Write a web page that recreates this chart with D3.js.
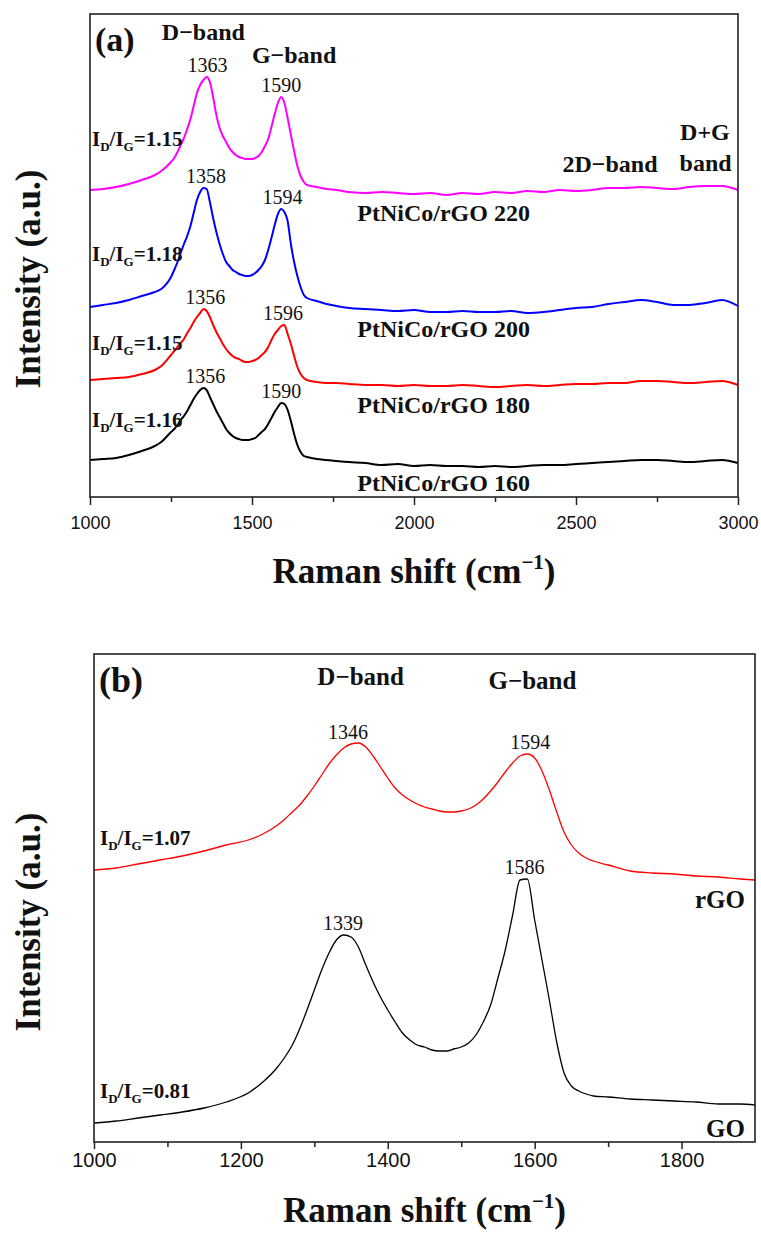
<!DOCTYPE html>
<html>
<head>
<meta charset="utf-8">
<script src="https://cdn.jsdelivr.net/npm/d3@7/dist/d3.min.js"></script>
<style>
  body { margin: 0; background: #fff; }
  svg text { fill: #111; }
</style>
</head>
<body>
<div id="chart"></div>
<script>
// ---------- panel (a) data : Raman shift grid + intensity (a.u.) per sample
var ramanA = [1000,1040,1080,1120,1160,1200,1220,
  1250,1260,1270,1280,1290,1300,1310,1320,1330,1340,1350,1360,1370,1380,1390,1400,1410,1420,1430,1440,
  1450,1460,1470,1480,1490,1500,1510,1520,1530,1540,1550,1560,1570,1580,1590,1600,1610,1620,1630,1640,
  1650,1660,1670,1700,1730,1760,1800,
  1850,1900,1950,2000,2050,2100,2150,2200,2250,2300,2350,2400,2450,2500,2550,2600,2650,2700,2750,2800,2850,2900,2950,3000];

var pt220 = [307,308,310,313,317,322,326,
  335,339,345,352,359,368,378,391,404,412,417,420,415,400,382,369,361,355,349,345,
  342,340,339,338,338,338,339,341,345,351,358,370,383,394,400,394,379,362,346,331,
  321,315,312,310,308,307,305,
  304,305,304,303,304,302,304,303,305,304,306,305,307,306,307,309,309,310,309,308,310,311,311,307];
var pt200 = [190,192,194,197,201,205,208,
  220,227,235,244,253,261,271,284,297,305,309,308,295,279,265,253,243,235,231,227,
  225,223,222,221,221,222,224,227,231,237,247,259,272,283,288,285,276,253,235,221,
  210,202,199,196,193,191,189,
  188,187,186,187,185,185,186,185,185,186,184,185,187,189,190,193,195,197,195,192,192,194,197,191];
var pt180 = [117,118,119,120,123,127,131,
  142,146,150,154,158,164,169,175,180,184,188,186,180,172,165,159,153,148,144,141,
  139,138,136,135,135,136,137,139,142,145,150,157,163,167,171,172,163,153,141,130,
  123,119,117,115,114,114,113,
  112,112,111,112,111,111,112,111,110,111,112,111,112,113,113,114,114,116,116,115,114,115,116,112];
var pt160 = [37,38,39,42,46,51,55,
  65,68,72,77,81,86,92,98,103,107,109,107,100,93,86,80,74,68,64,61,
  59,58,57,57,57,58,59,62,65,68,73,79,85,90,94,93,87,76,63,52,
  45,41,40,38,37,36,35,
  34,32,33,31,32,31,31,30,31,30,31,32,32,33,34,35,36,37,37,36,35,36,37,34];

var samplesA = ["PtNiCo/rGO 220", "PtNiCo/rGO 200", "PtNiCo/rGO 180", "PtNiCo/rGO 160"];
var ratiosA = ["1.15", "1.18", "1.15", "1.16"];
var dPeaksA = [1363, 1358, 1356, 1356];
var gPeaksA = [1590, 1594, 1596, 1590];
var ticksA = [1000, 1500, 2000, 2500, 3000];
var minorA = [1250, 1750, 2250, 2750];

// ---------- panel (b) data
var ramanB = [1000,1030,1060,1090,1120,1150,1180,1210,1230,
  1250,1260,1270,1280,1290,1300,1310,1320,1330,1340,1350,1360,1370,1380,1390,1400,1410,1420,1430,1440,
  1450,1460,1470,1480,1490,1500,1510,1520,1530,1540,1550,1560,1570,1580,1590,1600,1610,1620,1630,1640,
  1650,1660,1670,1680,1700,1730,1760,1790,1820,1850,1880,1900];
var rGO = [272,274,278,282,286,291,297,302,308,
  317,323,330,337,346,356,367,378,387,394,398,399,395,386,375,364,354,347,342,338,
  335,333,331,330,330,331,333,337,343,351,360,370,379,386,388,384,371,352,330,310,
  297,289,284,281,277,271,269,268,266,265,263,262];
var GO = [19,21,24,27,30,34,40,49,60,
  75,85,97,113,132,152,172,189,202,207,205,195,177,160,145,132,120,109,102,97,
  95,92,91,91,93,95,99,107,120,137,164,192,227,262,263,222,182,142,100,69,
  56,51,48,46,45,43,42,41,40,38,38,37];
var samplesB = ["rGO", "GO"];
var ratiosB = ["1.07", "0.81"];
var dPeaksB = [1346, 1339];
var gPeaksB = [1594, 1586];
var ticksB = [1000, 1200, 1400, 1600, 1800];
var minorB = [1100, 1300, 1500, 1700];

// ---------- styles / layout
var serif = "'Liberation Serif', 'Times New Roman', serif";
var sans = "'Liberation Sans', Arial, sans-serif";
var coloursA = ["#ff00ff", "#0000ff", "#ff0000", "#000000"];
var coloursB = ["#ff0000", "#000000"];
var ratioLiftA = [44, 46, 30, 33];

var svg = d3.select("#chart").append("svg")
    .attr("width", 761)
    .attr("height", 1239)
    .style("font-family", serif);
svg.append("rect").attr("width", 761).attr("height", 1239).attr("fill", "#fff");

function nearMax(grid, vals, w) {
    var m = -Infinity;
    grid.forEach(function(g, i) { if (Math.abs(g - w) <= 12 && vals[i] > m) m = vals[i]; });
    return m;
}

function ratioText(g, x, y, value, size) {
    var t = g.append("text").attr("x", x).attr("y", y)
        .attr("font-size", size).attr("font-weight", "bold");
    t.append("tspan").text("I");
    t.append("tspan").attr("font-size", size * 0.62).attr("dy", size * 0.22).text("D");
    t.append("tspan").attr("dy", -size * 0.22).text("/I");
    t.append("tspan").attr("font-size", size * 0.62).attr("dy", size * 0.22).text("G");
    t.append("tspan").attr("dy", -size * 0.22).text("=" + value);
}

function drawPanel(p) {
    var x = d3.scaleLinear().domain(p.xDomain).range([p.left, p.right]);
    var y = d3.scaleLinear().domain(p.yDomain).range([p.bottom, p.top]);
    var g = svg.append("g");

    // bottom axis, majors labelled, minors blank
    var all = p.ticks.concat(p.minor).sort(d3.ascending);
    var axis = d3.axisBottom(x)
        .tickValues(all)
        .tickSizeOuter(0)
        .tickPadding(p.pad)
        .tickFormat(function(d) { return p.ticks.indexOf(d) >= 0 ? d : ""; });
    var ax = g.append("g").attr("transform", "translate(0," + p.bottom + ")").call(axis);
    ax.select(".domain").remove();
    ax.selectAll(".tick line")
        .attr("stroke", "#222")
        .attr("stroke-width", 1.5)
        .attr("y2", function(d) { return p.ticks.indexOf(d) >= 0 ? p.majorLen : p.minorLen; });
    ax.selectAll(".tick text")
        .style("font-family", sans)
        .style("font-size", p.tickFont + "px")
        .style("fill", "#111");

    // spectra
    var line = d3.line()
        .x(function(d, i) { return x(p.grid[i]); })
        .y(function(d) { return y(d); })
        .curve(d3.curveMonotoneX);
    p.series.forEach(function(s, i) {
        g.append("path")
            .datum(s)
            .attr("fill", "none")
            .attr("stroke", p.colours[i])
            .attr("stroke-width", p.lineW)
            .attr("stroke-linejoin", "round")
            .attr("d", line);
    });

    // frame
    g.append("rect")
        .attr("x", p.left).attr("y", p.top)
        .attr("width", p.right - p.left).attr("height", p.bottom - p.top)
        .attr("fill", "none").attr("stroke", "#222").attr("stroke-width", 1.6);

    // peak positions
    p.series.forEach(function(s, i) {
        [p.dPeaks[i], p.gPeaks[i]].forEach(function(w) {
            g.append("text")
                .attr("x", x(w))
                .attr("y", y(nearMax(p.grid, s, w)) - 5)
                .attr("text-anchor", "middle")
                .attr("font-size", p.peakFont)
                .text(w);
        });
    });

    // axis titles
    var xt = g.append("text")
        .attr("x", (p.left + p.right) / 2)
        .attr("y", p.xTitleY)
        .attr("text-anchor", "middle")
        .attr("font-size", 35)
        .attr("font-weight", "bold");
    xt.append("tspan").text("Raman shift (cm");
    xt.append("tspan").attr("font-size", 21).attr("dy", -14).text("\u22121");
    xt.append("tspan").attr("dy", 14).text(")");

    g.append("text")
        .attr("transform", "translate(40," + p.yTitleY + ") rotate(-90)")
        .attr("text-anchor", "middle")
        .attr("font-size", 35)
        .attr("font-weight", "bold")
        .text("Intensity (a.u.)");

    g.append("text")
        .attr("x", p.left + 5).attr("y", p.tagY)
        .attr("font-size", p.tagFont).attr("font-weight", "bold")
        .text(p.tag);

    return {x: x, y: y, g: g};
}

// ---------- panel (a)
var A = drawPanel({
    left: 90, right: 738, top: 14, bottom: 497,
    xDomain: [1000, 3000], yDomain: [0, 483],
    grid: ramanA, series: [pt220, pt200, pt180, pt160], colours: coloursA,
    ticks: ticksA, minor: minorA, pad: 13, majorLen: 8, minorLen: 5, tickFont: 18,
    lineW: 2, dPeaks: dPeaksA, gPeaks: gPeaksA, peakFont: 20,
    xTitleY: 583, yTitleY: 279, tag: "(a)", tagY: 51, tagFont: 34
});

[["D\u2212band", 1350, 40], ["G\u2212band", 1630, 63], ["2D\u2212band", 2605, 172],
 ["D+G", 2898, 140], ["band", 2900, 171]].forEach(function(b) {
    A.g.append("text")
        .attr("x", A.x(b[1])).attr("y", b[2])
        .attr("text-anchor", "middle")
        .attr("font-size", 24).attr("font-weight", "bold")
        .text(b[0]);
});

[pt220, pt200, pt180, pt160].forEach(function(s, i) {
    ratioText(A.g, 92, A.y(s[0]) - ratioLiftA[i], ratiosA[i], 21);
    A.g.append("text")
        .attr("x", A.x(1825))
        .attr("y", A.y(s[ramanA.indexOf(1850)]) + 28)
        .attr("font-size", 24).attr("font-weight", "bold")
        .text(samplesA[i]);
});

// ---------- panel (b)
var B = drawPanel({
    left: 94, right: 755, top: 654, bottom: 1142,
    xDomain: [1000, 1900], yDomain: [0, 488],
    grid: ramanB, series: [rGO, GO], colours: coloursB,
    ticks: ticksB, minor: minorB, pad: 5, majorLen: 7, minorLen: 5, tickFont: 20,
    lineW: 1.3, dPeaks: dPeaksB, gPeaks: gPeaksB, peakFont: 20,
    xTitleY: 1222, yTitleY: 922, tag: "(b)", tagY: 692, tagFont: 36
});

[["D\u2212band", 1363, 685], ["G\u2212band", 1597, 689]].forEach(function(b) {
    B.g.append("text")
        .attr("x", B.x(b[1])).attr("y", b[2])
        .attr("text-anchor", "middle")
        .attr("font-size", 25).attr("font-weight", "bold")
        .text(b[0]);
});

[rGO, GO].forEach(function(s, i) {
    ratioText(B.g, 100, B.y(s[0]) - 25, ratiosB[i], 21);
    B.g.append("text")
        .attr("x", 745)
        .attr("y", B.y(s[s.length - 1]) + 28 + i * 4)
        .attr("text-anchor", "end")
        .attr("font-size", 25).attr("font-weight", "bold")
        .text(samplesB[i]);
});
</script>
</body>
</html>
